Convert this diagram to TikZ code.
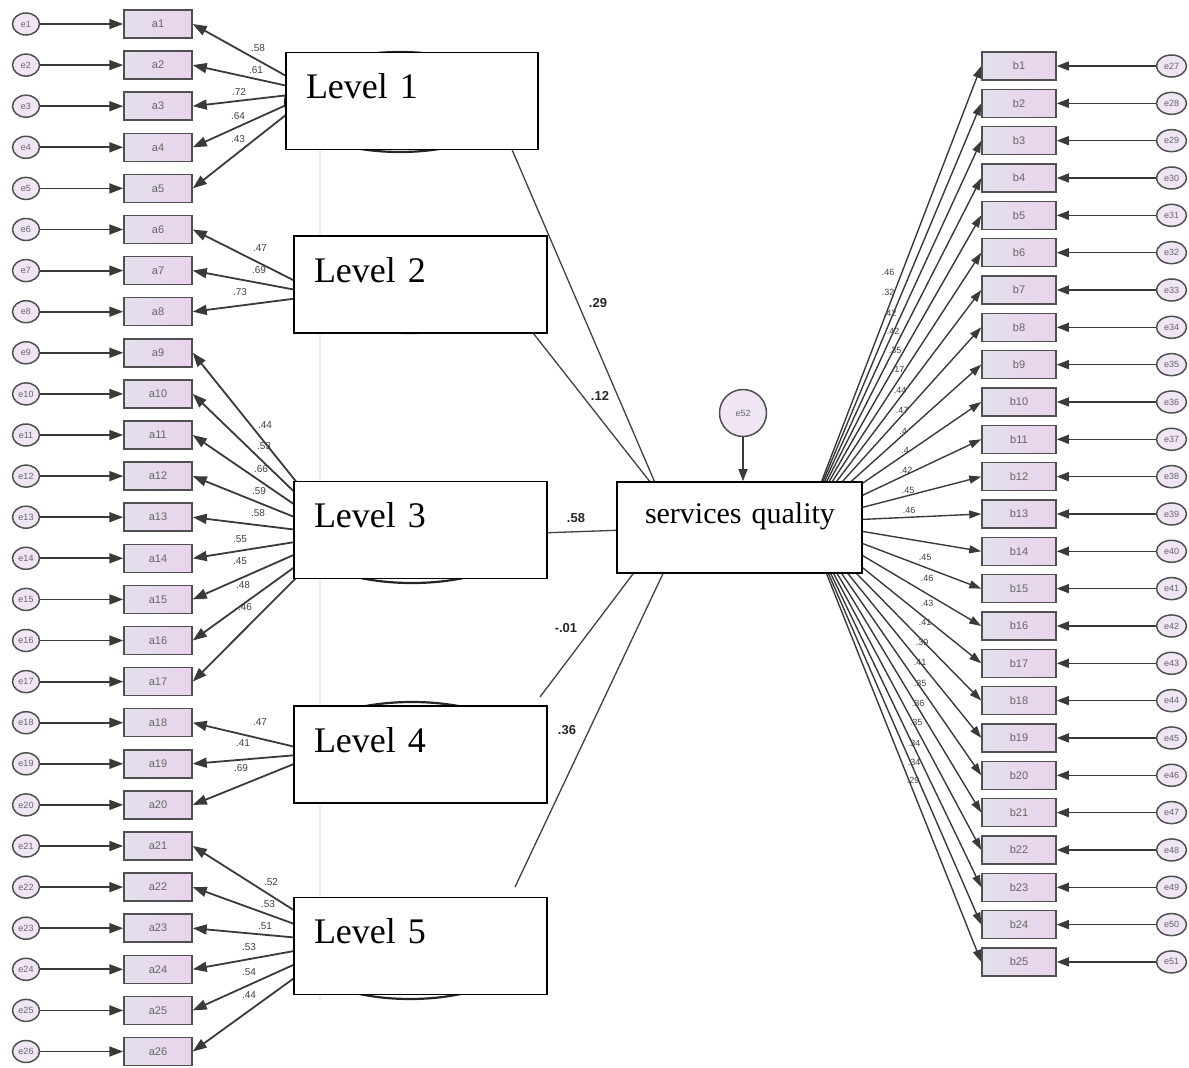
\documentclass[tikz,border=0pt]{standalone}
\usepackage{fontspec}
\setmainfont{Liberation Serif}
\newfontfamily\amosfont{Liberation Sans}
\usetikzlibrary{positioning,arrows.meta,shapes.geometric}
\definecolor{indleft}{HTML}{E3E0EC}
\definecolor{indright}{HTML}{E9D3EC}
\definecolor{errfill}{HTML}{EFE5F3}
\definecolor{edge}{HTML}{505050}
\definecolor{wire}{HTML}{3A3A3A}

\begin{document}
\begin{tikzpicture}[x=1pt, y=-1pt,
    ind/.style={draw=edge, line width=1.5pt, left color=indleft, right color=indright, minimum width=68pt, minimum height=28pt, inner sep=0pt, font=\amosfont\fontsize{11}{11}\selectfont, text=black!60},
    errc/.style={ellipse, draw=edge, line width=1.5pt, fill=errfill, minimum width=27pt, minimum height=22pt, inner sep=0pt, font=\amosfont\fontsize{9}{9}\selectfont, text=black!60},
    latent/.style={ellipse, draw=black!85, line width=2.2pt, inner sep=0pt},
    levbox/.style={draw, line width=1.8pt, fill=white, inner xsep=20pt, inner ysep=0pt, text height=46pt, text depth=51pt, text width=213pt, align=left, font=\fontsize{36}{40}\selectfont},
    arr/.style={-{Triangle[length=14pt,width=10pt]}, line width=1.8pt, draw=wire},
    link/.style={line width=1.3pt, draw=black!75},
    wt/.style={font=\amosfont\fontsize{10}{10}\selectfont, text=black!75, inner sep=0pt},
    coef/.style={font=\amosfont\bfseries\fontsize{13}{13}\selectfont, text=black!85, inner sep=0pt}
]
    \useasboundingbox (0,0) rectangle (1189,1068);

    % faint guide left over behind the level boxes
    \draw[black!7, line width=2pt] (320,150) -- (320,1000);

    % latent ellipses, mostly hidden by the level boxes
    \node[latent, minimum width=230pt, minimum height=100pt] (lat1) at (400,102) {};
    \node[latent, minimum width=232pt, minimum height=96pt] (lat2) at (410,285) {};
    \node[latent, minimum width=236pt, minimum height=100pt] (lat3) at (412,533) {};
    \node[latent, minimum width=236pt, minimum height=100pt] (lat4) at (412,752) {};
    \node[latent, minimum width=232pt, minimum height=100pt] (lat5) at (410,949) {};

    % where the loadings leave each latent
    \coordinate (hub1) at (315,92);
    \coordinate (hub2) at (323,295);
    \coordinate (hub3) at (339,535);
    \coordinate (hub4) at (321,753);
    \coordinate (hub5) at (344,942);

    % indicators a1..a26 with their errors
    \foreach \i in {1,...,26} {
        \node[ind] (a\i) at (158,{24+41.1*(\i-1)}) {a\i};
        \node[errc, left=83pt of a\i] (e\i) {e\i};
        \draw[arr] (e\i) -- (a\i);
    }

    % indicators b1..b25 with their errors
    \foreach \i in {1,...,25} {
        \pgfmathtruncatemacro\k{\i+26}
        \node[ind, minimum width=74pt] (b\i) at (1019,{66+37.33*(\i-1)}) {b\i};
        \node[errc, minimum width=30pt, right=99pt of b\i] (e\k) {e\k};
        \draw[arr, line width=1.4pt, -{Triangle[length=12pt,width=9pt]}] (e\k) -- (b\i);
    }

    % loadings
    \foreach \i in {1,...,5} \draw[arr] (hub1) -- (a\i.east);
    \foreach \i in {6,7,8} \draw[arr] (hub2) -- (a\i.east);
    \foreach \i in {9,...,17} \draw[arr] (hub3) -- (a\i.east);
    \foreach \i in {18,19,20} \draw[arr] (hub4) -- (a\i.east);
    \foreach \i in {21,...,26} \draw[arr] (hub5) -- (a\i.east);

    \coordinate (sqc) at (806,522);
    \foreach \i in {1,...,25} \draw[arr, line width=1.4pt, -{Triangle[length=12pt,width=8pt]}] (sqc) -- (b\i.west);

    % paths into services quality
    \coordinate (g1) at (507,138); \coordinate (h1) at (659,492);
    \coordinate (g2) at (526,324); \coordinate (h2) at (658,492);
    \coordinate (g3) at (540,533); \coordinate (h3) at (625,530);
    \coordinate (g4) at (540,697); \coordinate (h4) at (642,562);
    \coordinate (g5) at (515,887); \coordinate (h5) at (668,563);
    \foreach \i in {1,...,5} \draw[link] (g\i) -- (h\i);

    % level and outcome boxes on top
    \node[levbox, text width=212pt] (lev1) at (412,101) {Level 1};
    \node[levbox] (lev2) at (420.5,284.5) {Level 2};
    \node[levbox] (lev3) at (420.5,530) {Level 3};
    \node[levbox] (lev4) at (420.5,754.5) {Level 4};
    \node[levbox] (lev5) at (420.5,946) {Level 5};
    \node[levbox, inner xsep=22pt, text width=201pt, text height=41pt, text depth=50pt, font=\fontsize{30}{36}\selectfont] (sq) at (739.5,527.5) {\hspace*{6pt}\mbox{services quality}};

    \node[errc, minimum width=47pt, minimum height=47pt] (e52) at (743,413) {e52};
    \draw[arr, line width=1.4pt, -{Triangle[length=12pt,width=9pt]}] (e52) -- (e52 |- sq.north);

    % weights
    \foreach \x/\y/\t [count=\n] in {258/48/.58, 256/70/.61, 239/92/.72, 238/116/.64, 238/139/.43,
        260/248/.47, 259/270/.69, 240/292/.73,
        265/425/.44, 264/446/.53, 261/469/.66, 259/491/.59, 258/513/.58, 240/539/.55, 240/561/.45, 243/585/.48, 245/607/.46,
        260/722/.47, 243/743/.41, 241/768/.69,
        271/882/.52, 268/904/.53, 265/926/.51, 249/947/.53, 249/972/.54, 249/995/.44}
        \node[wt] (wa\n) at (\x,\y) {\t};
    \foreach \x/\y/\t [count=\n] in {888/272/.46, 888/292/.32, 890/313/.42, 893/331/.42, 895/350/.35, 898/369/.17, 900/390/.44,
        902/410/.47, 903/431/.4, 905/450/.4, 906/470/.42, 908/490/.45, 909/510/.46,
        925/557/.45, 927/578/.46, 927/603/.43, 925/622/.41, 922/642/.39, 920/662/.41, 920/683/.35,
        918/703/.36, 916/722/.35, 914/743/.34, 914/762/.34, 913/780/.29}
        \node[wt, font=\amosfont\fontsize{9}{9}\selectfont] (wb\n) at (\x,\y) {\t};

    \node[coef] (c1) at (598,303) {.29};
    \node[coef] (c2) at (600,396) {.12};
    \node[coef] (c3) at (576,518) {.58};
    \node[coef] (c4) at (566,628) {-.01};
    \node[coef] (c5) at (567,730) {.36};
\end{tikzpicture}
\end{document}
